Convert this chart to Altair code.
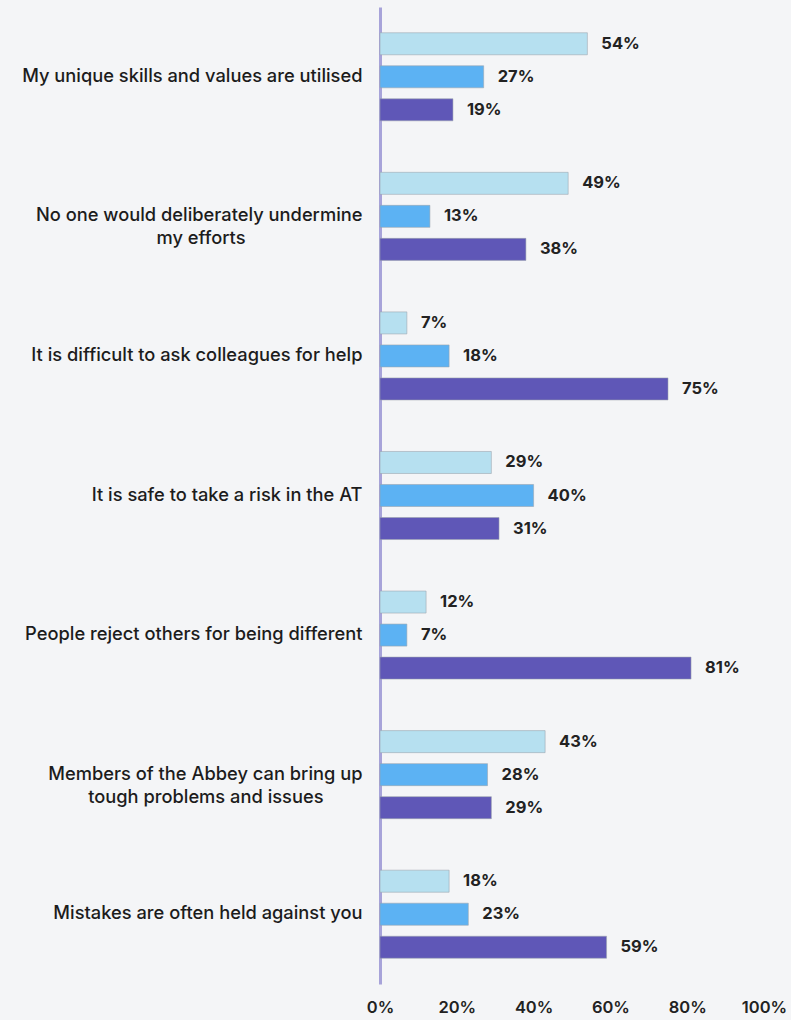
import altair as alt
import pandas as pd

statements = [
    "My unique skills and values are utilised",
    "No one would deliberately undermine|my efforts",
    "It is difficult to ask colleagues for help",
    "It is safe to take a risk in the AT",
    "People reject others for being different",
    "Members of the Abbey can bring up|tough problems and issues",
    "Mistakes are often held against you",
]
series = ["Agree", "Neutral", "Disagree"]
agree = [54, 49, 7, 29, 12, 43, 18]
neutral = [27, 13, 18, 40, 7, 28, 23]
disagree = [19, 38, 75, 31, 81, 29, 59]
colors = ["#b6e0f0", "#5cb2f3", "#5f57b7"]

# trailing no-break spaces (closed by a zero-width space so they are not trimmed)
# so that a short second line sits centred under the first
second_line_pad = {1: 24, 5: 8}
display = []
for i, s in enumerate(statements):
    if i in second_line_pad:
        s = s + "\u00a0" * second_line_pad[i] + "\u200b"
    display.append(s)

rows = []
for i, s in enumerate(display):
    for name, vals in zip(series, [agree, neutral, disagree]):
        rows.append({"statement": s, "series": name, "value": vals[i]})
df = pd.DataFrame(rows)

FONT = "Inter"

y_enc = alt.Y(
    "statement:N",
    sort=display,
    scale=alt.Scale(paddingInner=0, paddingOuter=0),
    axis=alt.Axis(
        title=None,
        labelExpr="split(datum.label, '|')",
        labelFont=FONT,
        labelFontSize=18.3,
        labelFontWeight=500,
        labelColor="#1c1c1c",
        labelPadding=18,
        labelLineHeight=23,
        labelLimit=400,
        ticks=False,
        domain=True,
        domainColor="#a7a3d9",
        domainWidth=3,
        grid=False,
    ),
)
yoff = alt.YOffset(
    "series:N",
    sort=series,
    scale=alt.Scale(paddingInner=0.333, paddingOuter=0.78),
)

base = alt.Chart(df)

bars = base.mark_bar(stroke="#9aa3ad", strokeWidth=0.8, strokeOpacity=0.7).encode(
    x=alt.X(
        "value:Q",
        scale=alt.Scale(domain=[0, 100], nice=False),
        axis=alt.Axis(
            title=None,
            values=[0, 20, 40, 60, 80, 100],
            labelExpr="datum.value + '%'",
            labelFont=FONT,
            labelFontSize=16.5,
            labelFontWeight=600,
            labelColor="#222222",
            labelPadding=15,
            labelFlush=False,
            labelBound=False,
            labelOverlap=False,
            ticks=False,
            domain=False,
            grid=False,
        ),
    ),
    y=y_enc,
    yOffset=yoff,
    color=alt.Color(
        "series:N",
        sort=series,
        scale=alt.Scale(domain=series, range=colors),
        legend=None,
    ),
)

text = base.transform_calculate(lab="datum.value + '%'").mark_text(
    align="left",
    baseline="middle",
    dx=14,
    font=FONT,
    fontSize=16.5,
    fontWeight=700,
    color="#222222",
).encode(
    x="value:Q",
    y=alt.Y("statement:N", sort=display),
    yOffset=alt.YOffset("series:N", sort=series),
    text="lab:N",
)

chart = (
    alt.layer(bars, text)
    .properties(
        width=384,
        height=977,
        background="#f4f5f7",
        padding={"left": 380, "top": 7, "right": 27, "bottom": 36},
        autosize=alt.AutoSizeParams(type="none"),
    )
    .configure_view(stroke=None)
)

chart.save("out.html", embed_options={"renderer": "svg", "actions": False})
